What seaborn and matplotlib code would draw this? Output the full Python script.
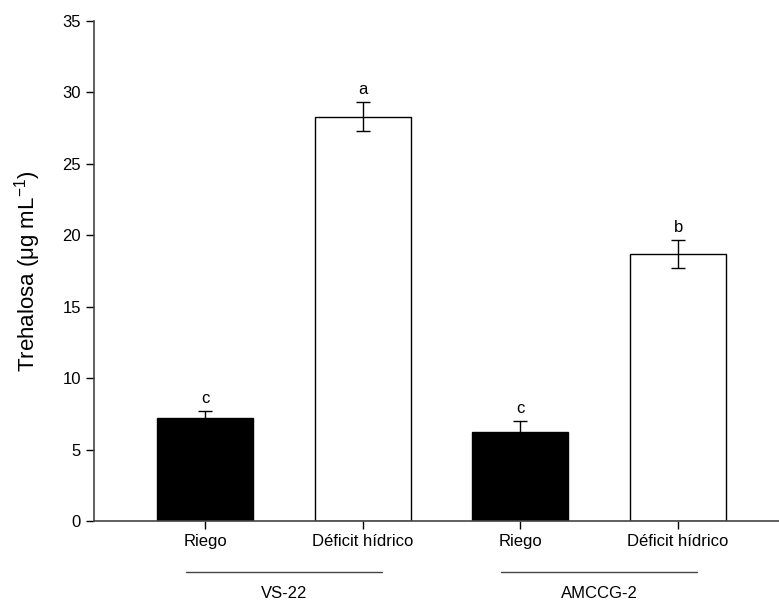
import matplotlib
matplotlib.use("Agg")
import matplotlib.pyplot as plt
import matplotlib.transforms as mtransforms
import numpy as np
import pandas as pd
import seaborn as sns

# datos
variedades = ["VS-22", "VS-22", "AMCCG-2", "AMCCG-2"]
tratamientos = ["Riego", "Déficit hídrico", "Riego", "Déficit hídrico"]
trehalosa = [7.2, 28.3, 6.2, 18.7]
error = [0.5, 1.0, 0.8, 1.0]
letras = ["c", "a", "c", "b"]
colores = ["black", "white", "black", "white"]

df = pd.DataFrame({"variedad": variedades, "tratamiento": tratamientos,
                   "trehalosa": trehalosa, "error": error})
df["grupo"] = df["variedad"] + " " + df["tratamiento"]

sns.set_style("ticks")
plt.rcParams['font.family'] = ['Liberation Sans', 'DejaVu Sans']
plt.rcParams['mathtext.fontset'] = 'custom'
plt.rcParams['mathtext.rm'] = 'Liberation Sans'
plt.rcParams['mathtext.it'] = 'Liberation Sans:italic'
plt.rcParams['text.color'] = 'black'
plt.rcParams['xtick.color'] = 'black'
plt.rcParams['ytick.color'] = 'black'
plt.rcParams['axes.labelcolor'] = 'black'

fig = plt.figure(figsize=(7.79, 6.04), dpi=100)
ax = fig.add_axes([94/779, 83/604, 1 - 94/779, 500/604])

sns.barplot(data=df, x="grupo", y="trehalosa", hue="grupo", palette=colores,
            order=list(df["grupo"]), errorbar=None, width=0.61,
            edgecolor="black", linewidth=1, legend=False, ax=ax)

pos = np.arange(len(df))
ax.errorbar(pos, df["trehalosa"], yerr=df["error"], fmt="none",
            ecolor="black", elinewidth=1, capsize=5, capthick=1)

for x, v, e, l in zip(pos, trehalosa, error, letras):
    ax.text(x, v + e + 0.35, l, ha="center", va="bottom", fontsize=12)

ax.set_xlim(-0.704, 3.64)
ax.set_ylim(0, 35)
ax.set_yticks(np.arange(0, 36, 5))
ax.set_xticks(pos)
ax.set_xticklabels(tratamientos, fontsize=12)
ax.tick_params(axis="y", labelsize=12, length=6, width=1)
ax.tick_params(axis="x", length=6, width=1)
for t in ax.get_xticklines() + ax.get_yticklines():
    t.set_color("#444444")
ax.set_xlabel("")
ax.set_ylabel("Trehalosa (μg mL$^{-1}$)", fontsize=16, labelpad=14)
sns.despine(ax=ax)
for s in ["left", "bottom"]:
    ax.spines[s].set_color("#444444")
    ax.spines[s].set_linewidth(1.2)

# lineas y etiquetas de variedad
trans = mtransforms.blended_transform_factory(ax.transData, ax.transAxes)
for i, nombre in enumerate(["VS-22", "AMCCG-2"]):
    c = 2 * i + 0.5
    ax.plot([c - 0.62, c + 0.62], [-0.102, -0.102], color="#444444", lw=1,
            transform=trans, clip_on=False)
    ax.text(c, -0.144, nombre, ha="center", va="center", fontsize=12,
            transform=trans)

fig.savefig("out.png", dpi=100)
